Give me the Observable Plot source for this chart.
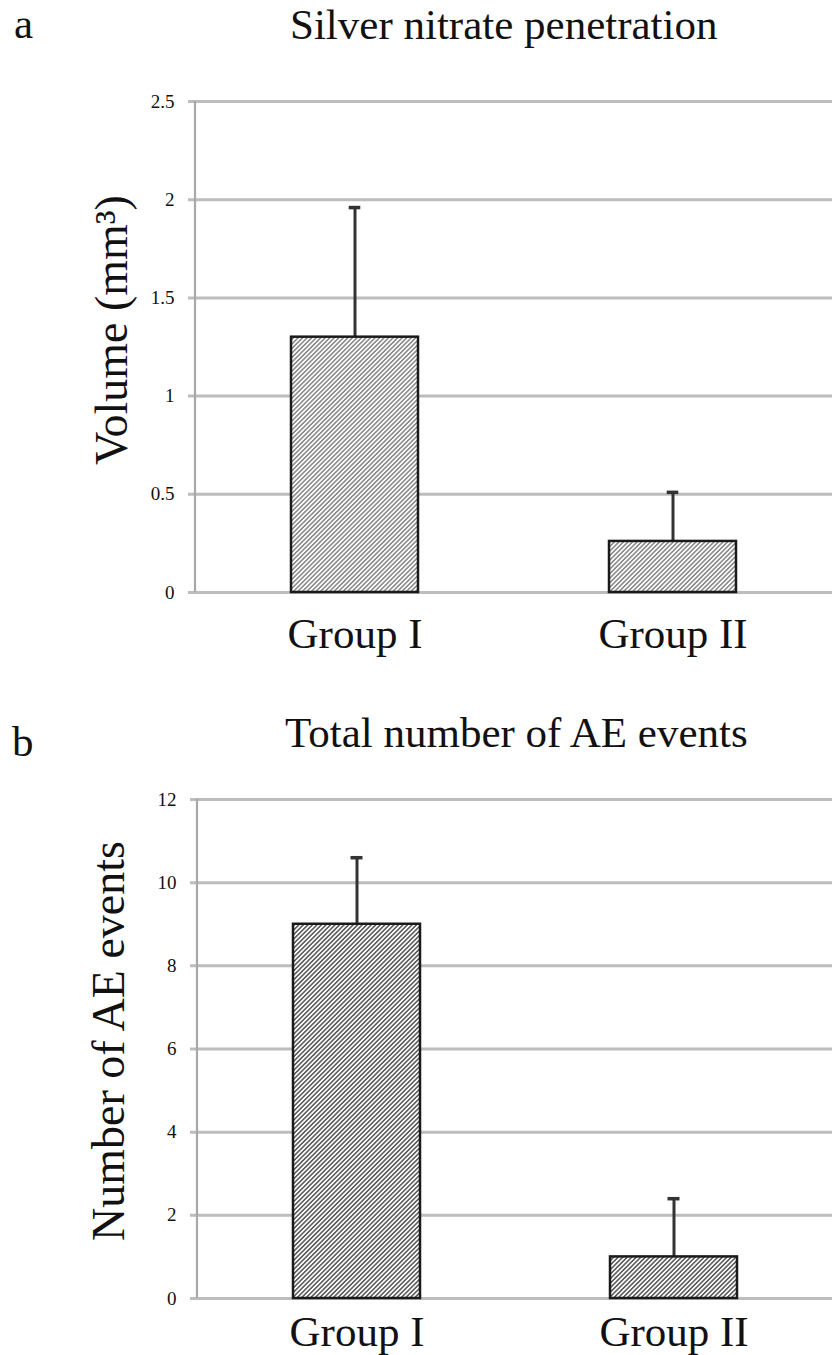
<!DOCTYPE html>
<html><head><meta charset="utf-8">
<script src="https://cdn.jsdelivr.net/npm/d3@7"></script>
<script src="https://cdn.jsdelivr.net/npm/@observablehq/plot@0.6"></script>
<style>
body{margin:0;background:#fff;}
#fig{position:relative;width:832px;height:1355px;font-family:"Liberation Serif","Times New Roman",serif;color:#111;overflow:hidden;}
.t{position:absolute;font-size:43px;line-height:43px;white-space:nowrap;}
.panel{position:absolute;left:0;}
</style></head><body>
<div id="fig">
 <div class="t" style="left:14px;top:2px">a</div>
 <div class="t" style="left:290px;top:3px">Silver nitrate penetration</div>
 <div class="panel" id="pa" style="top:60px"></div>
 <div class="t" style="left:12px;top:720px">b</div>
 <div class="t" style="left:285px;top:711px">Total number of AE events</div>
 <div class="panel" id="pb" style="top:770px"></div>
</div>
<script>
// ---- data ----
const groups = ["Group I", "Group II"];
const volumeMean = [1.3, 0.26];
const volumeSD = [0.66, 0.25];
const volumeTicks = [0, 0.5, 1, 1.5, 2, 2.5];
const aeMean = [9, 1];
const aeSD = [1.6, 1.4];
const aeTicks = [0, 2, 4, 6, 8, 10, 12];

function panel(o) {
  const rows = groups.map((g, i) => ({group: g, mean: o.means[i], upper: o.means[i] + o.sds[i]}));
  const W = 832;
  const step = (W - o.marginLeft) / (2 - o.padInner + 2 * o.padOuter);
  const bw = step * (1 - o.padInner);
  const capInset = (bw - 12) / 2;
  const axisLine = (index, scales, values, dims) => {
    const g = d3.create("svg:g");
    g.append("line")
      .attr("x1", dims.marginLeft).attr("x2", dims.marginLeft)
      .attr("y1", scales.y(d3.max(o.ticks))).attr("y2", scales.y(0))
      .attr("stroke", "#a8a8a8").attr("stroke-width", 2.2);
    return g.node();
  };
  const svg = Plot.plot({
    width: W,
    height: o.height,
    marginLeft: o.marginLeft,
    marginRight: 0,
    marginTop: o.marginTop,
    marginBottom: o.marginBottom,
    style: {fontFamily: "Liberation Serif, Times New Roman, serif", fontSize: "19px", color: "#111", background: "white", overflow: "visible"},
    x: {type: "band", domain: groups, paddingInner: o.padInner, paddingOuter: o.padOuter, label: null},
    y: {domain: [0, d3.max(o.ticks)], label: null},
    marks: [
      Plot.ruleY(o.ticks, {y: d => d, stroke: "#bdbdbd", strokeWidth: 3, insetLeft: -7}),
      axisLine,
      Plot.ruleX(rows, {x: "group", y1: "mean", y2: "upper", stroke: "#333", strokeWidth: 3}),
      Plot.tickY(rows, {x: "group", y: "upper", stroke: "#333", strokeWidth: 3.5, insetLeft: capInset, insetRight: capInset}),
      Plot.barY(rows, {x: "group", y: "mean", fill: `url(#${o.hatchId})`, stroke: "#1a1a1a", strokeWidth: 2.5}),
      Plot.axisY({ticks: o.ticks, tickSize: 0, tickPadding: 21, fontSize: 19, tickFormat: d3.format("")}),
      Plot.axisX({tickSize: 0, tickPadding: o.xPad, fontSize: 43}),
      Plot.text([o.yLabel], {frameAnchor: "left", text: d => d, rotate: -90, fontSize: 46, textAnchor: "middle", lineAnchor: "middle", dx: o.labelDx, dy: o.labelDy})
    ]
  });
  const defs = d3.select(svg).insert("defs", ":first-child");
  const p = defs.append("pattern")
    .attr("id", o.hatchId).attr("patternUnits", "userSpaceOnUse")
    .attr("width", 3.2).attr("height", 3.2).attr("patternTransform", "rotate(45)");
  p.append("rect").attr("width", 3.2).attr("height", 3.2).attr("fill", "#fff");
  p.append("rect").attr("width", 1.6).attr("height", 3.2).attr("fill", o.hatchColor);
  document.getElementById(o.id).appendChild(svg);
}

panel({id: "pa", means: volumeMean, sds: volumeSD, ticks: volumeTicks, yLabel: "Volume (mm³)",
  hatchId: "hatchA", hatchColor: "#8c8c8c", marginLeft: 195, marginTop: 41, height: 622, marginBottom: 90,
  padInner: 0.6, padOuter: 0.3, xPad: 25, labelDx: -83, labelDy: -17});
panel({id: "pb", means: aeMean, sds: aeSD, ticks: aeTicks, yLabel: "Number of AE events",
  hatchId: "hatchB", hatchColor: "#5e5e5e", marginLeft: 197, marginTop: 29, height: 585, marginBottom: 57,
  padInner: 0.6, padOuter: 0.3, xPad: 17, labelDx: -88, labelDy: -8});
</script>
</body></html>
